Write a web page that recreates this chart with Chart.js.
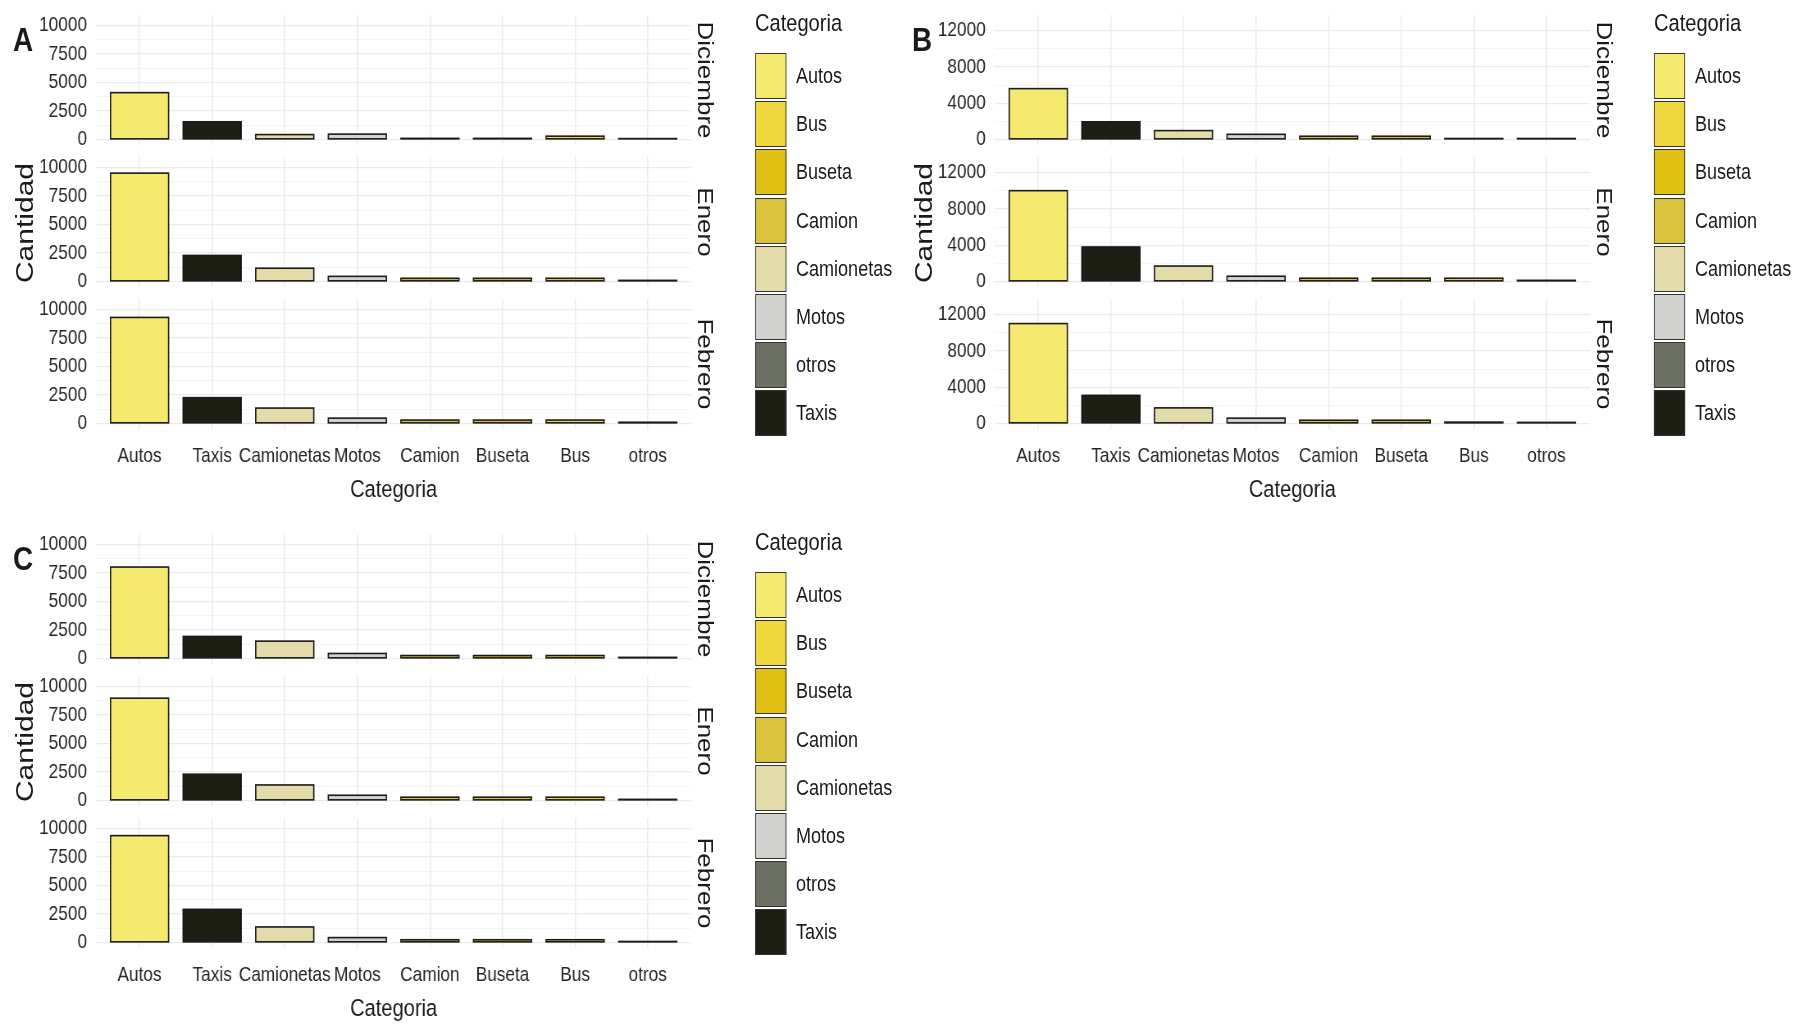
<!DOCTYPE html>
<html>
<head>
<meta charset="utf-8">
<script src="https://cdn.jsdelivr.net/npm/chart.js@4.4.1/dist/chart.umd.min.js"></script>
<style>
  html, body { margin: 0; background: #fff; overflow: hidden; }
  #frame { position: relative; width: 1793px; height: 1024px; overflow: hidden; background: #fff; }
  /* the original figure is squeezed horizontally; draw wide and compress */
  #root { position: absolute; left: 0; top: 0; width: 2187px; height: 1024px; transform: scaleX(0.82); transform-origin: 0 0; }
  #root canvas { position: absolute; }
  .lbl { position: absolute; white-space: nowrap; line-height: 1; color: #1a1a1a; }
  .key { position: absolute; box-sizing: border-box; border: 1.5px solid #333; }
</style>
</head>
<body>
<div id="frame"><div id="root"></div></div>
<script>
const categories = ['Autos', 'Taxis', 'Camionetas', 'Motos', 'Camion', 'Buseta', 'Bus', 'otros'];
const legendOrder = ['Autos', 'Bus', 'Buseta', 'Camion', 'Camionetas', 'Motos', 'otros', 'Taxis'];
const legendColors = ['#F6E96F', '#EFD73D', '#E0C114', '#DBC33D', '#E3DBA9', '#D1D1CF', '#6C7063', '#1D1F15'];
const months = ['Diciembre', 'Enero', 'Febrero'];

// panel A
const aDic = [4100, 1550, 430, 470, 100, 100, 290, 80];
const aEne = [9480, 2280, 1160, 450, 280, 280, 280, 100];
const aFeb = [9280, 2260, 1350, 470, 300, 300, 300, 110];
// panel B
const bDic = [5600, 1950, 980, 570, 360, 360, 110, 110];
const bEne = [10000, 3800, 1700, 580, 360, 360, 360, 130];
const bFeb = [11000, 3100, 1720, 590, 360, 360, 150, 120];
// panel C
const cDic = [8000, 1930, 1520, 440, 260, 260, 260, 100];
const cEne = [8950, 2300, 1360, 460, 290, 290, 290, 100];
const cFeb = [9350, 2900, 1360, 430, 240, 240, 240, 90];

const ticks10k = [0, 2500, 5000, 7500, 10000];
const minor10k = [1250, 3750, 6250, 8750];
const ticks12k = [0, 4000, 8000, 12000];
const minor12k = [2000, 6000, 10000];

const root = document.getElementById('root');
const SANS = "'Liberation Sans', Arial, sans-serif";
const S = 0.82; // horizontal squeeze of #root

// layout of one plot block, x in unsqueezed px
const PLOT_L = 96 / S, PLOT_R = 691 / S;
const FACET_TOP = 15, FACET_STEP = 142, FACET_H = 130, ZERO_OFF = 124.5;
const PAD = 26, XAX_H = 76;

const colorOf = (cat) => legendColors[legendOrder.indexOf(cat)];

// ggplot-like outline: stroke centred on the bar edge, so thin bars stay visible
const barOutline = {
  id: 'barOutline',
  afterDatasetsDraw(chart) {
    const ctx = chart.ctx;
    ctx.save();
    ctx.strokeStyle = '#1a1a1a';
    ctx.lineWidth = 1.6;
    chart.getDatasetMeta(0).data.forEach((bar) => {
      const { x, y, base, width } = bar.getProps(['x', 'y', 'base', 'width'], true);
      ctx.strokeRect(x - width / 2, Math.min(y, base), width, Math.abs(base - y));
    });
    ctx.restore();
  },
};

function addText(txt, x, y, opts) {
  const d = document.createElement('div');
  d.className = 'lbl';
  d.textContent = txt;
  d.style.left = x + 'px';
  d.style.top = y + 'px';
  d.style.fontFamily = SANS;
  d.style.fontSize = opts.size + 'px';
  if (opts.bold) d.style.fontWeight = 'bold';
  const tx = opts.left ? '0' : '-50%';
  d.style.transform = `translate(${tx},-50%) rotate(${opts.rot || 0}deg)`;
  root.appendChild(d);
}

function drawFacet(ox, oy, f, values, majors, minors, pxPerUnit) {
  const isBottom = f === months.length - 1;
  const canvas = document.createElement('canvas');
  const h = FACET_H + PAD + (isBottom ? XAX_H : PAD);
  canvas.width = Math.round(PLOT_R);
  canvas.height = h;
  canvas.style.left = ox + 'px';
  canvas.style.top = (oy + FACET_TOP + f * FACET_STEP - PAD) + 'px';
  root.appendChild(canvas);

  const allTicks = majors.concat(minors).sort((a, b) => a - b);

  new Chart(canvas.getContext('2d'), {
    type: 'bar',
    data: {
      datasets: [{
        data: values.map((v, i) => ({ x: i, y: v })),
        backgroundColor: categories.map(colorOf),
        borderWidth: 0,
        inflateAmount: 0,
        barPercentage: 0.8,
        categoryPercentage: 1,
      }],
    },
    plugins: [barOutline],
    options: {
      responsive: false,
      animation: false,
      devicePixelRatio: 1,
      layout: { padding: { top: PAD, bottom: isBottom ? 0 : PAD, left: 0, right: 0 } },
      plugins: { legend: { display: false }, tooltip: { enabled: false } },
      scales: {
        x: {
          type: 'linear',
          offset: false,
          min: -0.6,
          max: categories.length - 0.4,
          afterBuildTicks: (s) => { s.ticks = categories.map((c, i) => ({ value: i })); },
          afterFit: (s) => { s.height = isBottom ? XAX_H : 0; },
          grid: { offset: false, color: '#ebebeb', lineWidth: 1.5, drawTicks: false },
          border: { display: false },
          ticks: {
            display: isBottom,
            autoSkip: false,
            maxRotation: 0,
            padding: 15,
            color: '#262626',
            font: { family: SANS, size: 21 },
            callback: (v) => categories[v],
          },
          title: {
            display: isBottom,
            text: 'Categoria',
            color: '#1a1a1a',
            font: { family: SANS, size: 24.5 },
            padding: { top: 2, bottom: 0 },
          },
        },
        y: {
          min: -(FACET_H - ZERO_OFF) / pxPerUnit,
          max: ZERO_OFF / pxPerUnit,
          afterBuildTicks: (s) => { s.ticks = allTicks.map((v) => ({ value: v })); },
          afterFit: (s) => { s.width = PLOT_L; },
          grid: {
            color: (c) => (minors.includes(c.tick.value) ? '#f1f1f1' : '#ebebeb'),
            lineWidth: (c) => (minors.includes(c.tick.value) ? 0.8 : 1.3),
            drawTicks: false,
          },
          border: { display: false },
          ticks: {
            autoSkip: false,
            padding: 11,
            color: '#262626',
            font: { family: SANS, size: 21 },
            callback: (v) => (majors.includes(v) ? String(v) : ''),
          },
        },
      },
    },
  });
}

function drawBlock(letter, ox, oy, series, majors, minors, pxPerUnit) {
  series.forEach((values, f) => drawFacet(ox, oy, f, values, majors, minors, pxPerUnit));

  addText(letter, ox + 23 / S, oy + 39, { size: 34, bold: true });
  addText('Cantidad', ox + 25 / S, oy + 223, { size: 30, rot: -90 });
  months.forEach((m, f) => {
    addText(m, ox + 705 / S, oy + FACET_TOP + f * FACET_STEP + FACET_H / 2, { size: 26, rot: 90 });
  });

  // legend
  addText('Categoria', ox + 755 / S, oy + 23, { size: 24.5, left: true });
  legendOrder.forEach((cat, i) => {
    const k = document.createElement('div');
    k.className = 'key';
    k.style.left = (ox + 755 / S) + 'px';
    k.style.top = (oy + 53 + i * 48.2) + 'px';
    k.style.width = (31 / S) + 'px';
    k.style.height = '46px';
    k.style.background = legendColors[i];
    root.appendChild(k);
    addText(cat, ox + 796 / S, oy + 53 + i * 48.2 + 23, { size: 22, left: true });
  });
}

drawBlock('A', 0, 0, [aDic, aEne, aFeb], ticks10k, minor10k, 114.3 / 10000);
drawBlock('B', 899 / S, 0, [bDic, bEne, bFeb], ticks12k, minor12k, 109 / 12000);
drawBlock('C', 0, 519, [cDic, cEne, cFeb], ticks10k, minor10k, 114.3 / 10000);
</script>
</body>
</html>
